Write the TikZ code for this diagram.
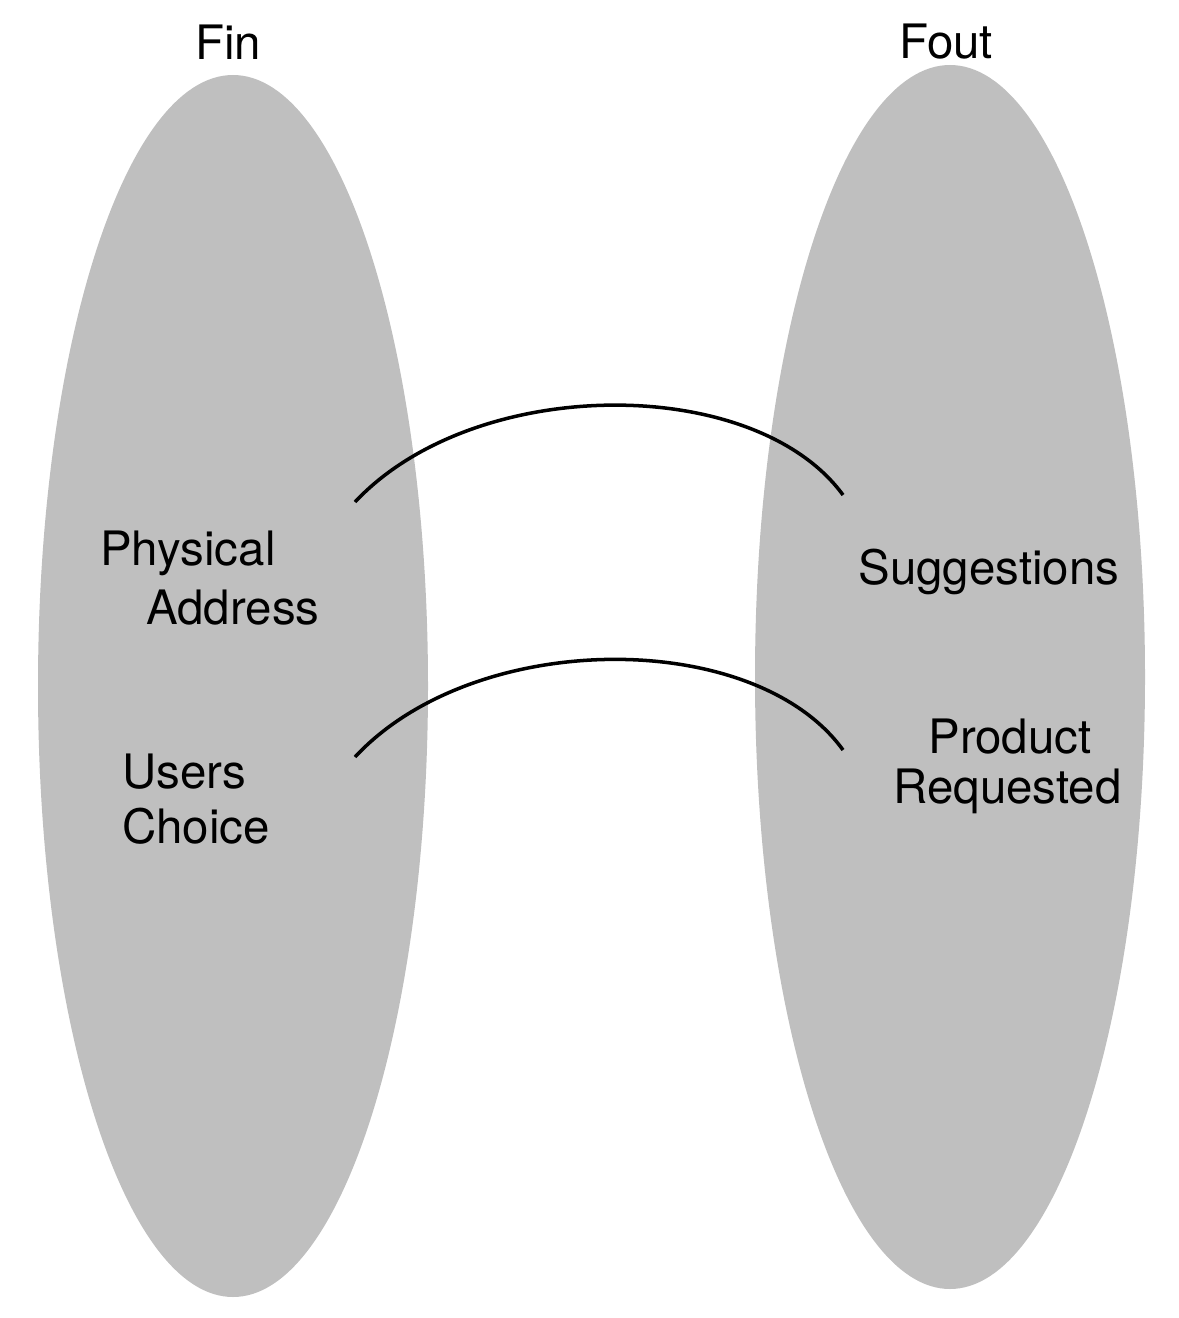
\documentclass[tikz,border=0pt]{standalone}
\usepackage{fontspec}
\setmainfont{TeX Gyre Heros}
\begin{document}
\begin{tikzpicture}[x=0.02cm,y=-0.02cm,
  setshape/.style={fill=setgray,draw=none},
  lbl/.style={font=\fontsize{27}{32}\selectfont,inner sep=0pt,anchor=west},
  ttl/.style={font=\fontsize{27}{32}\selectfont,inner sep=0pt},
  link/.style={line width=2pt}]
\definecolor{setgray}{HTML}{BFBFBF}
\useasboundingbox (0,0) rectangle (1178,1318);
\fill[setshape] (233,686) ellipse [x radius=195, y radius=611];
\fill[setshape] (950,677) ellipse [x radius=195, y radius=612];
\node[ttl] (fin) at (228,42) {Fin};
\node[ttl] (fout) at (946,42) {Fout};
\node[lbl] (phys) at (100,553) {Physical};
\node[lbl] (addr) at (146,608) {Address};
\node[lbl] (users) at (122,772) {Users};
\node[lbl] (choice) at (122,826) {Choice};
\node[lbl] (sugg) at (858,572) {Suggestions};
\node[lbl] (prod) at (928,737) {Product};
\node[lbl] (req) at (893,791) {Requested};
\coordinate (a1) at (355,502);
\coordinate (b1) at (843,495);
\coordinate (a2) at (355,757);
\coordinate (b2) at (843,750);
\draw[link] (a1) .. controls (475,374) and (755,374) .. (b1);
\draw[link] (a2) .. controls (475,628) and (755,628) .. (b2);
\end{tikzpicture}
\end{document}
